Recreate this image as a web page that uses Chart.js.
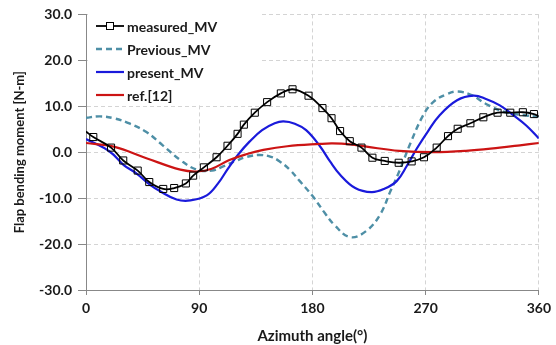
<!DOCTYPE html>
<html>
<head>
<meta charset="utf-8">
<script src="https://cdn.jsdelivr.net/npm/chart.js@4"></script>
<style>
  html, body { margin: 0; padding: 0; background: #ffffff; }
  #wrap { width: 556px; height: 345px; }
</style>
</head>
<body>
<div id="wrap"><canvas id="c" width="556" height="345"></canvas></div>
<script>
// ---- data ----
const seriesNames = ['measured_MV', 'Previous_MV', 'present_MV', 'ref.[12]'];
const xTicks = [0, 90, 180, 270, 360];
const yTicks = [-30, -20, -10, 0, 10, 20, 30];

const measuredAngle = [0, 5.8, 19.9, 29.6, 41.1, 50.3, 61.4, 70.1, 79.4, 85.2, 93.7, 103.8, 112.5, 120.5, 125.5, 134.2, 144, 154.9, 164.2, 176.9, 188, 195.2, 202, 209.7, 219, 227.7, 237.5, 248.6, 258.9, 268.7, 278.8, 287.8, 295.5, 305.6, 315.9, 327.2, 337.3, 347.3, 356.1, 360];
const measuredMoment = [4.5, 3.3, 1.0, -1.8, -4.0, -6.5, -8.0, -7.8, -6.8, -5.1, -3.3, -1.1, 1.4, 4.0, 6.0, 8.6, 10.9, 12.8, 13.7, 12.3, 9.6, 7.4, 4.6, 2.4, 1.0, -1.2, -1.9, -2.3, -2.0, -1.1, 1.0, 3.5, 5.1, 6.3, 7.6, 8.6, 8.6, 8.7, 8.3, 7.8];

const previousAngle = [0, 11, 22, 35, 48, 61, 75, 88, 100, 109, 120, 128, 138, 147, 154, 162, 170, 180, 190, 197, 210, 223, 234, 242, 249, 258, 268, 276, 286.5, 295.7, 307.6, 318, 334, 350, 360];
const previousMoment = [7.5, 7.8, 7.4, 6.2, 4.4, 1.5, -1.7, -3.8, -4.0, -3.1, -1.8, -1.0, -0.6, -1.0, -2.0, -3.8, -6.3, -9.5, -13.3, -15.7, -18.5, -17.1, -13.5, -8.5, -4.2, 2.0, 8.0, 10.9, 12.6, 13.2, 12.3, 10.5, 8.7, 8.0, 7.7];

const presentAngle = [0, 19, 30, 40, 51, 59, 72, 83, 96, 105, 113, 121, 130, 140, 150, 157, 166, 175, 186, 194, 202, 214, 227, 237, 247, 255, 263, 272, 281, 295, 308, 318, 329, 340, 350, 360];
const presentMoment = [2.9, 0.1, -2.8, -4.6, -7.1, -8.5, -10.3, -10.5, -9.4, -6.8, -3.5, -0.5, 2.3, 4.8, 6.3, 6.7, 6.2, 4.8, 1.3, -2.0, -4.9, -7.8, -8.7, -8.0, -6.3, -3.0, 0.8, 4.6, 8.0, 11.3, 12.3, 11.6, 10.2, 8.0, 5.8, 3.0];

const refAngle = [0, 22, 48, 75, 88, 100, 114, 128, 141, 160, 186, 196, 210, 223, 249, 276, 302, 329, 345, 360];
const refMoment = [2.0, 1.2, -1.3, -3.8, -4.2, -3.6, -1.7, -0.4, 0.5, 1.3, 1.8, 1.9, 1.7, 1.2, 0.3, 0.0, 0.3, 1.0, 1.5, 2.0];

const colors = ['#000000', '#4e8fa6', '#1a1adb', '#cc1414'];

function pts(xs, ys) { return xs.map((x, i) => ({ x: x, y: ys[i] })); }

const FONT = 'Lato, "Open Sans", sans-serif';

// marker radius per point (no marker at the line ends)
const measuredRadius = measuredAngle.map((a, i) => (i === 0 || i === measuredAngle.length - 1) ? 0 : 5);

const legendPlugin = {
  id: 'insideLegend',
  beforeDatasetsDraw(chart) {
    const ctx = chart.ctx;
    ctx.save();
    ctx.fillStyle = '#ffffff';
    ctx.fillRect(88, 13, 172, 92);
    ctx.font = 'bold 14px ' + FONT;
    ctx.textBaseline = 'middle';
    ctx.textAlign = 'left';
    const rows = [26, 49, 72, 95];
    chart.data.datasets.forEach((ds, i) => {
      const y = rows[i];
      ctx.strokeStyle = ds.borderColor;
      ctx.lineWidth = ds.borderWidth;
      ctx.setLineDash(ds.borderDash || []);
      ctx.beginPath();
      ctx.moveTo(96, y);
      ctx.lineTo(124, y);
      ctx.stroke();
      ctx.setLineDash([]);
      if (i === 0) {
        ctx.lineWidth = 1;
        ctx.fillStyle = '#ffffff';
        ctx.fillRect(106.5, y - 3.5, 7, 7);
        ctx.strokeRect(106.5, y - 3.5, 7, 7);
      }
      ctx.fillStyle = '#1a1a1a';
      ctx.fillText(ds.label, 127, y + 1);
    });
    ctx.restore();
  }
};

new Chart(document.getElementById('c'), {
  type: 'line',
  data: {
    datasets: [
      {
        label: seriesNames[0], data: pts(measuredAngle, measuredMoment),
        borderColor: colors[0], borderWidth: 1.8, tension: 0.4,
        pointStyle: 'rect', pointRadius: measuredRadius, pointBorderWidth: 1,
        pointBorderColor: '#000000', pointBackgroundColor: 'rgba(255,255,255,0)', order: 0
      },
      {
        label: seriesNames[1], data: pts(previousAngle, previousMoment),
        borderColor: colors[1], borderWidth: 2.4, borderDash: [6, 4], tension: 0.4,
        pointRadius: 0, order: 3
      },
      {
        label: seriesNames[2], data: pts(presentAngle, presentMoment),
        borderColor: colors[2], borderWidth: 2.2, tension: 0.4,
        pointRadius: 0, order: 2
      },
      {
        label: seriesNames[3], data: pts(refAngle, refMoment),
        borderColor: colors[3], borderWidth: 2.2, tension: 0.4,
        pointRadius: 0, order: 1
      }
    ]
  },
  options: {
    responsive: false,
    animation: false,
    devicePixelRatio: 1,
    layout: { padding: { left: 0, right: 17, top: 11, bottom: 0 } },
    plugins: { legend: { display: false }, tooltip: { enabled: false } },
    scales: {
      x: {
        type: 'linear', min: 0, max: 360,
        afterBuildTicks: (s) => { s.ticks = xTicks.map(v => ({ value: v })); },
        afterFit: (s) => { s.height = 55; },
        ticks: { color: '#1a1a1a', font: { family: FONT, size: 14, weight: 'bold' }, padding: 5, maxRotation: 0 },
        grid: { color: '#d4d4d4', tickColor: '#888888', tickLength: 5, lineWidth: 1 },
        border: { display: true, color: '#888888', width: 1, dash: [4, 3] },
        title: { display: true, text: 'Azimuth angle(°)', color: '#1a1a1a', font: { family: FONT, size: 15, weight: 'bold' }, padding: { top: 6, bottom: 0 } }
      },
      y: {
        type: 'linear', min: -30, max: 30,
        afterBuildTicks: (s) => { s.ticks = yTicks.map(v => ({ value: v })); },
        afterFit: (s) => { s.width = 86; },
        ticks: { color: '#1a1a1a', font: { family: FONT, size: 14, weight: 'bold' }, padding: 6, callback: (v) => Number(v).toFixed(1) },
        grid: { color: '#d4d4d4', tickColor: '#888888', tickLength: 8, lineWidth: 1 },
        border: { display: true, color: '#888888', width: 1, dash: [4, 3] },
        title: { display: true, text: 'Flap bending moment [N-m]', color: '#1a1a1a', font: { family: FONT, size: 13, weight: 'bold' }, padding: { top: 12, bottom: 0 } }
      }
    }
  },
  plugins: [legendPlugin]
});
</script>
</body>
</html>
